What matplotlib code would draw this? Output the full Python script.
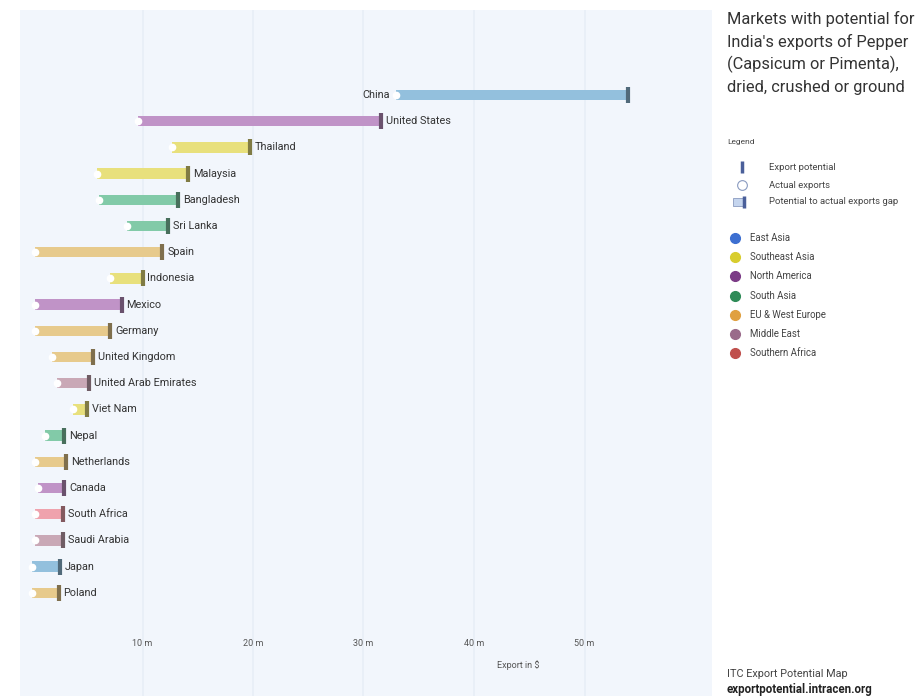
import matplotlib
matplotlib.use("Agg")
import matplotlib.pyplot as plt
import matplotlib.colors as mcolors
import numpy as np

plt.rcParams['font.family'] = ['Roboto', 'DejaVu Sans']

countries = ["China", "United States", "Thailand", "Malaysia", "Bangladesh", "Sri Lanka",
             "Spain", "Indonesia", "Mexico", "Germany", "United Kingdom",
             "United Arab Emirates", "Viet Nam", "Nepal", "Netherlands", "Canada",
             "South Africa", "Saudi Arabia", "Japan", "Poland"]
regions = ["East Asia", "North America", "Southeast Asia", "Southeast Asia", "South Asia",
           "South Asia", "EU & West Europe", "Southeast Asia", "North America",
           "EU & West Europe", "EU & West Europe", "Middle East", "Southeast Asia",
           "South Asia", "EU & West Europe", "North America", "Southern Africa",
           "Middle East", "East Asia", "EU & West Europe"]
actual = [32.9, 9.6, 12.7, 5.9, 6.1, 8.6, 0.3, 7.1, 0.3, 0.3, 1.8, 2.3, 3.7, 1.2,
          0.3, 0.5, 0.3, 0.3, 0.0, 0.0]
potential = [53.9, 31.6, 19.7, 14.1, 13.2, 12.3, 11.8, 10.0, 8.1, 7.1, 5.5, 5.2, 5.0,
             2.9, 3.1, 2.9, 2.8, 2.8, 2.5, 2.4]
tick_values = [10, 20, 30, 40, 50]
tick_labels = ["10 m", "20 m", "30 m", "40 m", "50 m"]

region_names = ["East Asia", "Southeast Asia", "North America", "South Asia",
                "EU & West Europe", "Middle East", "Southern Africa"]
region_dot = ["#3d6fd1", "#d8cd2e", "#7b3b86", "#2e8b57", "#e0a040", "#9a6a8a", "#c0504d"]
region_bar = ["#93c0dd", "#e8e07c", "#c093c7", "#82caa8", "#e7ca8c", "#c9a8b6", "#efa2ad"]
bar_col = dict(zip(region_names, region_bar))

W, H = 922, 696
fig = plt.figure(figsize=(W / 100, H / 100), dpi=100)
fig.patch.set_facecolor("white")

ax_l, ax_r, ax_t, ax_b = 20, 712, 10, 696
ax = fig.add_axes([ax_l / W, 1 - ax_b / H, (ax_r - ax_l) / W, (ax_b - ax_t) / H])
ax.set_facecolor("#f2f6fc")
for s in ax.spines.values():
    s.set_visible(False)

x0, ppm = 32, 11.05
ax.set_xlim((ax_l - x0) / ppm, (ax_r - x0) / ppm)
y0, rowh = 95, 26.2
ax.set_ylim((ax_b - y0) / rowh, (ax_t - y0) / rowh)

ax.set_xticks(tick_values)
ax.set_xticklabels(tick_labels)
ax.tick_params(axis='x', length=0, pad=-41, labelsize=6.5, labelcolor="#555555")
ax.set_yticks([])
ax.grid(axis='x', color="#e8eef7", lw=1.2)
ax.set_axisbelow(True)

for i, (c, r, a, p) in enumerate(zip(countries, regions, actual, potential)):
    col = bar_col[r]
    ax.barh(i, p - a, left=a, height=0.4, color=col, edgecolor="none", zorder=2)
    dark = tuple(np.array(mcolors.to_rgb(col)) * 0.55)
    ax.plot([p], [i], marker='|', markersize=11, mew=3, color=dark, zorder=3)
    ax.plot([a], [i], marker='o', markersize=4.5, mfc="white", mec="white", zorder=3)
    if i == 0:
        ax.text(a - 0.5, i, c, ha='right', va='center', fontsize=7.8, color="#333333")
    else:
        ax.text(p + 0.45, i, c, ha='left', va='center', fontsize=7.8, color="#333333")

ax.text(0.72, 0.045, "Export in $", transform=ax.transAxes, ha='center', va='center',
        fontsize=6.5, color="#555555")


def fx(px):
    return px / W


def fy(py):
    return 1 - py / H


title_lines = ["Markets with potential for", "India's exports of Pepper",
               "(Capsicum or Pimenta),", "dried, crushed or ground"]
for k, line in enumerate(title_lines):
    fig.text(fx(727), fy(19 + 22.7 * k), line, fontsize=11.8, color="#333333",
             ha='left', va='center')

fig.text(fx(727), fy(142), "Legend", fontsize=6, color="#444444", va='center')
leg_items = ["Export potential", "Actual exports", "Potential to actual exports gap"]
leg_y = [167, 185, 202]
for t, py in zip(leg_items, leg_y):
    fig.text(fx(769), fy(py), t, fontsize=6.8, color="#444444", va='center')
fig.add_artist(plt.Line2D([fx(742)], [fy(167)], marker='|', markersize=8, mew=2.5,
                          color="#4a5f9a", transform=fig.transFigure))
fig.add_artist(plt.Line2D([fx(742)], [fy(185)], marker='o', markersize=7, mfc="white",
                          mec="#8a9bc0", mew=0.8, transform=fig.transFigure))
fig.add_artist(plt.Rectangle((fx(733), fy(206)), fx(10), 8 / H, facecolor="#c5d5ee",
                             edgecolor="#8a9bc0", lw=0.6, transform=fig.transFigure))
fig.add_artist(plt.Line2D([fx(744)], [fy(202)], marker='|', markersize=8, mew=2.5,
                          color="#4a5f9a", transform=fig.transFigure))

for k, (rn, dc) in enumerate(zip(region_names, region_dot)):
    py = 238 + 19.2 * k
    fig.add_artist(plt.Line2D([fx(735)], [fy(py)], marker='o', markersize=7, mfc=dc,
                              mec=dc, transform=fig.transFigure))
    fig.text(fx(750), fy(py), rn, fontsize=6.9, color="#444444", va='center')

fig.text(fx(727), fy(674), "ITC Export Potential Map", fontsize=7.8, color="#444444",
         va='center')
fig.text(fx(727), fy(689), "exportpotential.intracen.org", fontsize=8.3, color="#222222",
         fontweight='bold', va='center')

fig.savefig("out.png", dpi=100, facecolor="white")
